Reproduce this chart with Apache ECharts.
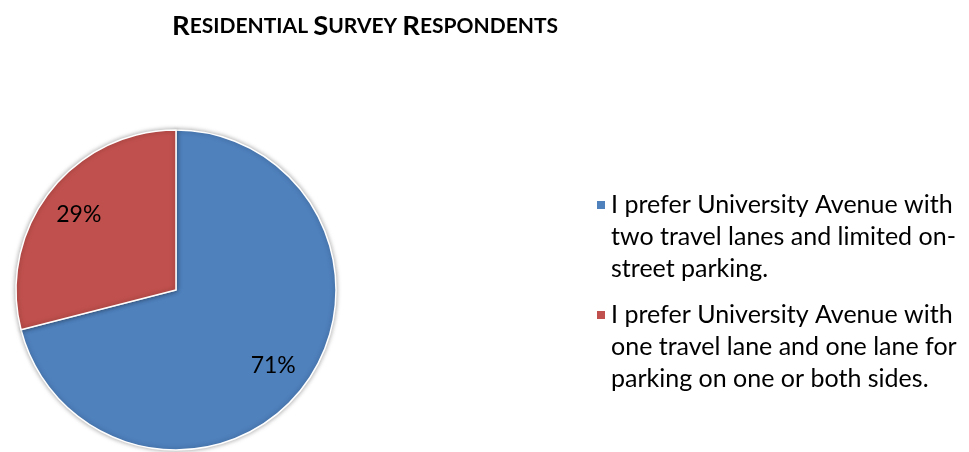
<!DOCTYPE html>
<html><head><meta charset="utf-8">
<script src="https://cdn.jsdelivr.net/npm/echarts@6/dist/echarts.min.js"></script>
<style>html,body{margin:0;padding:0;background:#fff}#c{width:969px;height:452px}</style>
</head><body><div id="c"></div>
<script>
const categories = [
  'I prefer University Avenue with\ntwo travel lanes and limited on-\nstreet parking.',
  'I prefer University Avenue with\none travel lane and one lane for\nparking on one or both sides.'
];
const values = [71, 29];
const colors = ['#4F81BD', '#C0504D'];

const data = categories.map((n, i) => ({ name: n, value: values[i], itemStyle: { color: colors[i] } }));

const chart = echarts.init(document.getElementById('c'), null, { renderer: 'canvas' });
chart.setOption({
  animation: false,
  title: {
    text: '{b|R}{s|ESIDENTIAL }{b|S}{s|URVEY }{b|R}{s|ESPONDENTS}',
    left: 360, top: 7, textAlign: 'center',
    textStyle: {
      rich: {
        b: { fontFamily: 'Lato', fontWeight: 'bold', fontSize: 27.5, color: '#000' },
        s: { fontFamily: 'Lato', fontWeight: 'bold', fontSize: 21, color: '#000' }
      }
    }
  },
  legend: {
    orient: 'vertical', left: 595, top: 125, height: 320, padding: 0,
    itemWidth: 10, itemHeight: 10, itemGap: -50,
    selectedMode: false, icon: 'rect',
    data: categories,
    formatter: function (name) { return '\n\n' + name; },
    textStyle: { fontFamily: 'Lato', fontSize: 25, lineHeight: 32, color: '#000' }
  },
  series: [
    {
      type: 'pie', center: [176, 290], radius: [0, 160], startAngle: 90, clockwise: true,
      silent: true,
      label: { show: false }, labelLine: { show: false },
      itemStyle: { borderColor: '#fff', borderWidth: 1.5, shadowBlur: 5, shadowColor: 'rgba(0,0,0,0.35)' },
      data: data
    },
    {
      type: 'pie', center: [176, 290], radius: [80, 160], startAngle: 90, clockwise: true,
      silent: true, legendHoverLink: false,
      itemStyle: { color: 'rgba(0,0,0,0)' },
      label: { show: true, position: 'inside', formatter: '{d}%', fontFamily: 'Lato', fontSize: 23, color: '#000' },
      labelLine: { show: false },
      data: categories.map((n, i) => ({ name: n, value: values[i], itemStyle: { color: 'rgba(0,0,0,0)' } }))
    }
  ]
});
</script></body></html>
